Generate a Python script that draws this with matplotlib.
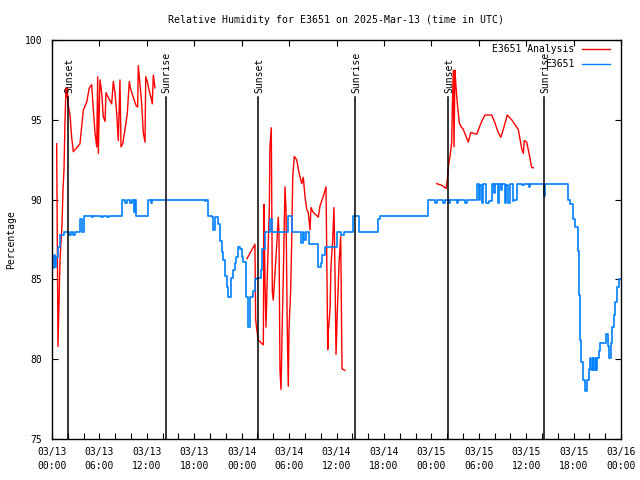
import matplotlib
matplotlib.use("Agg")
from matplotlib import pyplot as plt
from matplotlib.lines import Line2D
import numpy as np

plt.rcParams['font.family'] = ['DejaVu Sans Mono']
plt.rcParams['font.size'] = 7

# hours since 2025-03-13 00:00 UTC
analysis_hours = [
    # night of 03/13
    0.59, 0.76, 1.01, 1.27, 1.39, 1.52, 1.64, 1.77, 1.86, 1.94, 2.06, 2.28, 2.49, 2.70,
    3.54, 3.76, 3.96, 4.39, 4.72, 5.02, 5.15, 5.44, 5.66, 5.78, 5.86, 6.07, 6.29, 6.49,
    6.71, 6.83, 7.12, 7.55, 7.76, 7.97, 8.19, 8.39, 8.60, 8.73, 8.95, 9.24, 9.53, 9.78,
    9.96, 10.29, 10.63, 10.84, 10.92, 11.13, 11.35, 11.55, 11.77, 11.86, 12.06, 12.31,
    12.53, 12.69, 12.82, 13.03, np.nan,
    # night of 03/14
    24.67, 25.68, 25.77, 25.90, 26.10, 26.74, 26.83, 26.95, 27.08, 27.24, 27.50, 27.58,
    27.75, 27.88, 28.00, 28.22, 28.43, 28.63, 28.72, 28.85, 28.98, 29.14, 29.27, 29.48,
    29.61, 29.77, 29.90, 29.99, 30.20, 30.33, 30.46, 30.66, 30.96, 31.25, 31.60, 31.80,
    32.01, 32.23, 32.43, 32.65, 32.77, 33.06, 33.70, 33.91, 34.33, 34.67, 34.76, 34.89,
    34.96, 35.18, 35.30, 35.52, 35.68, 35.81, 35.94, 36.10, 36.32, 36.53, 36.70, 37.07,
    np.nan,
    # night of 03/15
    48.68, 49.31, 49.86, 50.02, 50.14, 50.36, 50.58, 50.65, 50.78, 50.87, 50.99, 51.12,
    51.29, 51.54, 51.72, 52.04, 52.68, 52.98, 53.74, 54.37, 54.79, 55.64, 56.05, 56.47,
    56.78, 57.11, 57.61, 58.17, 58.71, 59.00, 59.43, 59.64, 59.76, 60.07, 60.40, 60.70,
    60.90,
]
analysis_rh = [
    93.5, 80.8, 86.2, 88.5, 90.6, 91.9, 94.8, 97.0, 96.4, 97.0, 95.9, 95.3, 93.9, 93.0,
    93.5, 94.6, 95.6, 96.1, 97.0, 97.2, 96.2, 94.2, 93.3, 97.7, 92.9, 97.5, 96.7, 95.2,
    94.9, 96.7, 96.4, 96.0, 97.4, 96.7, 95.4, 93.7, 97.5, 93.3, 93.5, 94.4, 95.4, 97.4,
    96.9, 96.4, 95.9, 95.8, 98.4, 97.2, 96.0, 94.2, 93.6, 97.7, 97.4, 96.8,
    96.4, 96.0, 97.8, 97.0, np.nan,
    86.3, 87.2, 82.5, 81.9, 81.2, 80.9, 89.7, 84.8, 82.0, 85.2, 89.4, 93.3,
    94.5, 84.2, 83.7, 85.4, 87.1, 88.9, 87.9, 79.3, 78.1, 82.3, 85.2, 90.8,
    89.4, 81.9, 78.3, 81.9, 84.3, 87.3, 91.4, 92.7, 92.5, 91.7, 91.0, 91.4,
    90.2, 89.4, 89.2, 88.1, 89.5, 89.2, 88.9, 89.6, 90.2, 90.8, 86.9, 80.6,
    81.7, 83.1, 85.8, 87.5, 89.5, 85.4, 80.3, 82.9, 86.0, 87.7, 79.4, 79.3,
    np.nan,
    91.0, 90.9, 90.7, 91.2, 92.0, 92.7, 93.6, 95.6, 98.1, 93.3, 98.1, 97.1,
    96.0, 94.8, 94.6, 94.4, 93.6, 94.2, 94.1, 94.9, 95.3, 95.3, 94.8, 94.2,
    93.9, 94.4, 95.3, 95.0, 94.6, 94.4, 93.2, 92.9, 93.7, 93.6, 92.8, 92.0,
    92.0,
]

station_hours = [
    0.0, 0.2, 0.35, 0.55, 0.75, 1.0, 1.5, 2.2, 2.4, 2.7, 2.9, 3.6, 3.8, 4.0, 5.0, 5.2,
    6.2, 6.4, 7.0, 7.2, 8.9, 9.3, 9.5, 9.9, 10.1, 10.4, 10.5, 10.6, 12.2, 12.5, 12.7,
    19.3, 19.5, 19.8, 20.2, 20.4, 20.6, 21.0, 21.3, 21.5, 21.7, 21.9, 22.1, 22.3, 22.7,
    22.9, 23.1, 23.3, 23.5, 23.8, 24.0, 24.2, 24.6, 24.8, 25.0, 25.4, 25.7, 26.0, 26.4,
    26.6, 26.9, 27.6, 27.8, 29.8, 30.4, 31.5, 31.7, 31.9, 32.2, 32.5, 33.6, 34.0, 34.2,
    34.6, 36.1, 36.6, 36.9, 38.1, 38.8, 41.3, 41.5, 47.6, 48.5, 48.7, 49.5, 49.7, 50.2,
    50.4, 51.2, 51.4, 52.3, 52.5, 53.8, 54.0, 54.2, 54.4, 54.6, 54.9, 55.3, 55.7, 55.9,
    56.1, 56.4, 56.6, 56.8, 57.0, 57.3, 57.5, 57.7, 57.9, 58.3, 58.5, 58.9, 59.5, 59.7,
    60.3, 60.5, 62.2, 62.4, 65.3, 65.6, 65.9, 66.2, 66.5, 66.7, 66.8, 67.0, 67.2, 67.4,
    67.7, 67.9, 68.1, 68.2, 68.4, 68.5, 68.7, 68.8, 69.0, 69.2, 69.4, 70.1, 70.3, 70.5,
    70.7, 70.9, 71.1, 71.3, 71.5, 71.7, 72.0,
]
station_rh = [
    85.7, 86.5, 85.8, 86.4, 87.0, 87.8, 88.0, 87.8, 88.0, 87.8, 88.0, 88.8, 88.0, 89.0, 88.9, 89.0,
    88.9, 89.0, 88.9, 89.0, 90.0, 89.8, 90.0, 89.8, 90.0, 89.2, 90.0, 89.0, 90.0, 89.8, 90.0,
    89.9, 90.0, 89.0, 88.9, 88.1, 88.9, 88.5, 87.4, 86.7, 86.2, 85.2, 84.5, 83.9, 85.1,
    85.6, 86.0, 86.4, 87.0, 86.9, 86.4, 86.1, 83.9, 82.0, 83.9, 84.3, 85.0, 85.1, 85.6,
    86.9, 88.0, 88.8, 88.0, 89.0, 88.0, 87.3, 88.0, 87.5, 88.0, 87.2, 85.8, 86.0, 86.5,
    87.0, 88.0, 87.8, 88.0, 89.0, 88.0, 88.8, 89.0, 90.0, 89.8, 90.0, 89.8, 90.0, 89.8,
    90.0, 89.8, 90.0, 89.8, 90.0, 91.0, 90.0, 90.9, 89.8, 91.0, 89.8, 89.9, 91.0, 90.4,
    91.0, 89.8, 91.0, 90.6, 91.0, 89.8, 90.9, 89.8, 91.0, 89.9, 90.0, 91.0, 90.9, 91.0,
    90.8, 91.0, 90.2, 91.0, 90.0, 89.7, 88.8, 88.3, 86.8, 84.0, 81.2, 79.8, 78.7, 78.0,
    78.7, 79.4, 80.1, 79.3, 80.1, 79.3, 80.1, 79.3, 80.1, 80.5, 81.0, 81.6, 80.8, 80.1,
    81.0, 82.0, 82.8, 83.6, 84.5, 85.0, 85.0,
]

sun_hours = [2.07, 14.38, 26.1, 38.38, 50.15, 62.3]
sun_labels = ["Sunset", "Sunrise", "Sunset", "Sunrise", "Sunset", "Sunrise"]

tick_hours = [0, 6, 12, 18, 24, 30, 36, 42, 48, 54, 60, 66, 72]
tick_labels = ["03/13\n00:00", "03/13\n06:00", "03/13\n12:00", "03/13\n18:00",
               "03/14\n00:00", "03/14\n06:00", "03/14\n12:00", "03/14\n18:00",
               "03/15\n00:00", "03/15\n06:00", "03/15\n12:00", "03/15\n18:00",
               "03/16\n00:00"]

red = '#ff0000'
blue = '#0080ff'

fig = plt.figure(figsize=(6.4, 4.8), dpi=100)
ax = fig.add_axes([52/640, 1 - 439/480, 569/640, 399/480])

ax.plot(analysis_hours, analysis_rh, color=red, lw=1.0)
ax.plot(station_hours, station_rh, color=blue, lw=1.2, drawstyle='steps-post')

for h, lab in zip(sun_hours, sun_labels):
    ax.plot([h, h], [75, 96.4], color='black', lw=1.1)
    ax.text(h + 0.15, 96.7, lab, rotation=90, ha='center', va='bottom', fontsize=7)

ax.set_xlim(0, 72)
ax.set_ylim(75, 100)
ax.set_xticks(tick_hours)
ax.set_xticklabels(tick_labels, linespacing=1.5)
ax.set_xticks(np.arange(0, 73, 2), minor=True)
ax.set_yticks([75, 80, 85, 90, 95, 100])

ax.tick_params(which='both', direction='in', length=4, width=0.8, top=True, right=True)
ax.tick_params(which='minor', top=False)
ax.tick_params(axis='x', pad=6)
ax.tick_params(axis='y', pad=7)
for s in ax.spines.values():
    s.set_linewidth(1.0)

ax.set_title("Relative Humidity for E3651 on 2025-Mar-13 (time in UTC)", fontsize=7.1, pad=12)
fig.text(11/640, 0.5, "Percentage", rotation=90, ha='center', va='center', fontsize=7)

# legend, gnuplot style: text right-aligned, sample line after it
for i, (lab, col) in enumerate([("E3651 Analysis", red), ("E3651", blue)]):
    yy = 1 - (49 + 15*i) / 480
    fig.text(574/640, yy, lab, ha='right', va='center', fontsize=7)
    fig.add_artist(Line2D([582/640, 610/640], [yy, yy], color=col, lw=1.0,
                          transform=fig.transFigure))

fig.savefig("out.png", dpi=100)
